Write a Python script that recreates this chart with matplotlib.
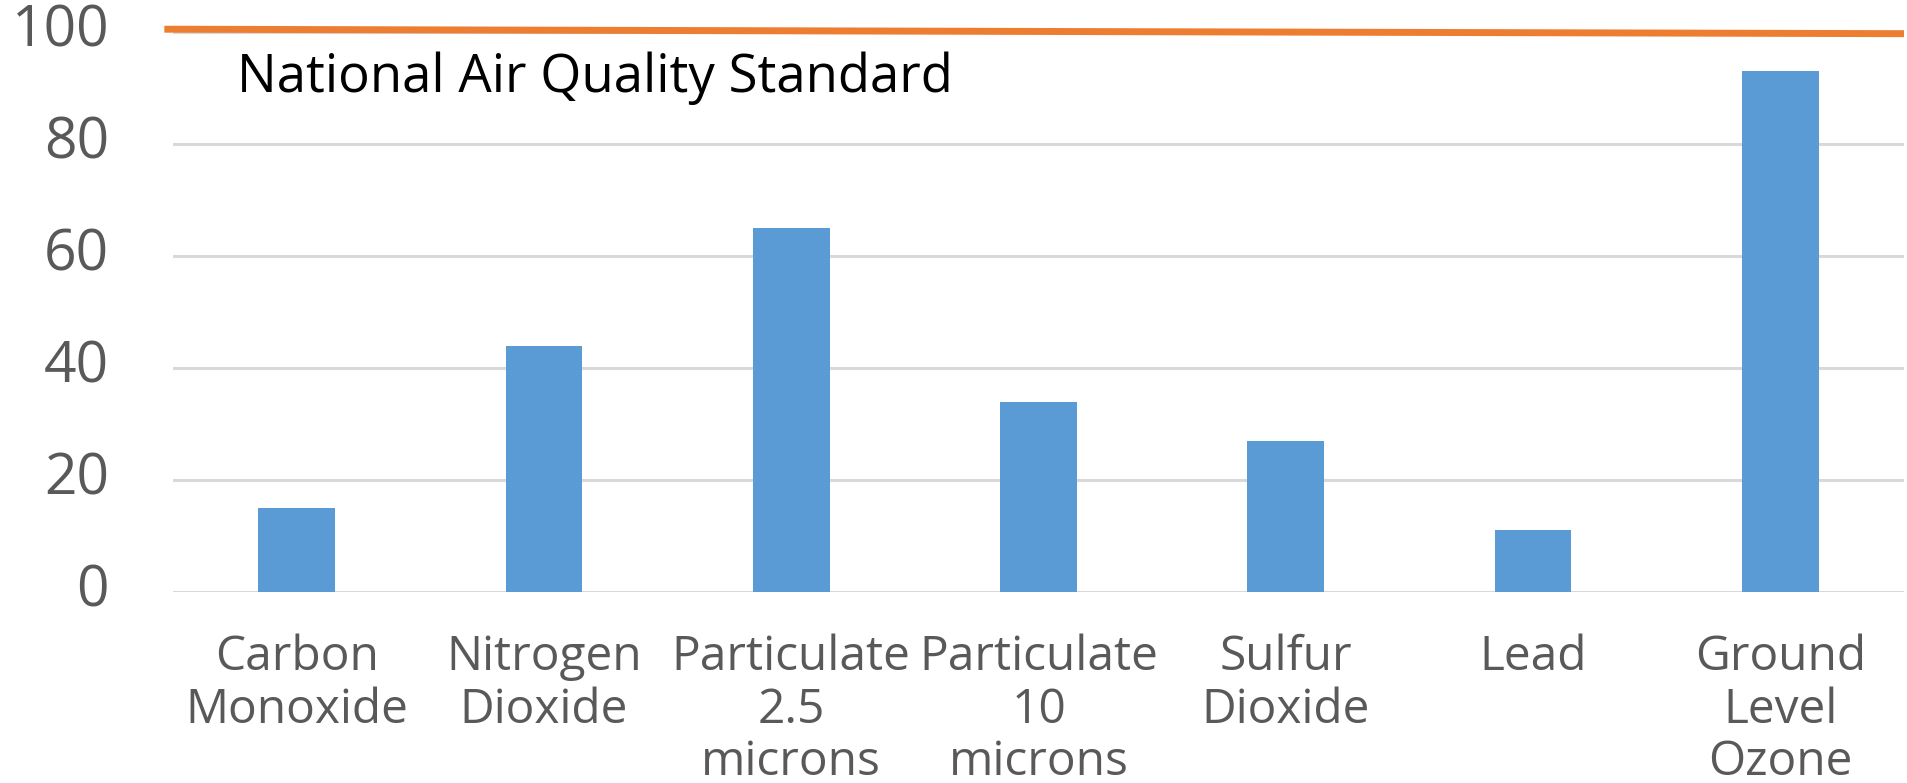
import matplotlib
matplotlib.use("Agg")
import matplotlib.pyplot as plt

categories = ["Carbon\nMonoxide", "Nitrogen\nDioxide", "Particulate\n2.5\nmicrons",
              "Particulate\n10\nmicrons", "Sulfur\nDioxide", "Lead", "Ground\nLevel\nOzone"]
values = [15, 44, 65, 34, 27, 11, 93]
standard_value = 100
standard_label = "National Air Quality Standard"
yticks = [0, 20, 40, 60, 80, 100]

plt.rcParams['font.family'] = ['Open Sans', 'DejaVu Sans']

fig = plt.figure(figsize=(19.08, 7.83), dpi=100)
ax = fig.add_axes([173/1908, 1 - 592/783, (1904-173)/1908, (592-32)/783])

x = list(range(len(categories)))
ax.bar(x, values, width=0.31, color="#5B9BD5", zorder=3)
ax.set_xlim(-0.5, len(categories) - 0.5)
ax.set_ylim(0, 100)

ax.set_yticks(yticks)
ax.set_yticklabels([str(v) for v in yticks])
ax.yaxis.grid(True, color="#D9D9D9", linewidth=2.2, zorder=0)
ax.set_axisbelow(True)
for s in ax.spines.values():
    s.set_visible(False)
ax.tick_params(axis='y', length=0, pad=46, labelsize=41, labelcolor="#595959")
ax.tick_params(axis='x', length=0, pad=30, labelsize=34.5, labelcolor="#595959")
ax.set_xticks(x)
ax.set_xticklabels(categories, linespacing=1.14)
for lbl in ax.get_yticklabels():
    lbl.set_verticalalignment('center')

ax.plot([-0.535, len(categories) - 0.5], [standard_value + 0.5, standard_value - 0.3],
        color="#ED7D31", linewidth=5, clip_on=False, zorder=4, solid_capstyle='butt')
ax.text(-0.24, standard_value - 8.3, standard_label, fontsize=38, color="black",
        ha="left", va="center")

fig.savefig("out.png", dpi=100)
